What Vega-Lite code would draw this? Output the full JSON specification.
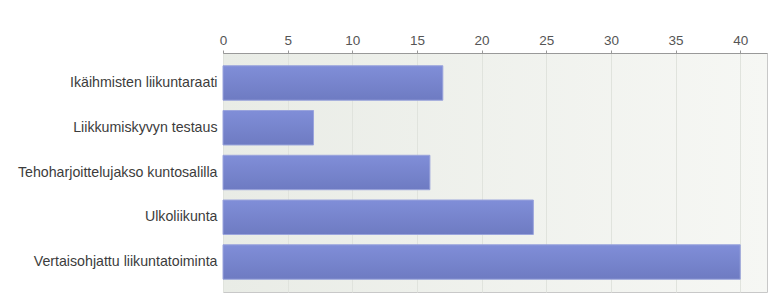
{
  "$schema": "https://vega.github.io/schema/vega-lite/v6.json",
  "width": 544,
  "height": 239,
  "autosize": {"type": "none"},
  "padding": {"left": 223, "top": 53, "right": 14, "bottom": 15},
  "background": "white",
  "data": {"values": [
    {"kategoria": "Ikäihmisten liikuntaraati", "arvo": 17},
    {"kategoria": "Liikkumiskyvyn testaus", "arvo": 7},
    {"kategoria": "Tehoharjoittelujakso kuntosalilla", "arvo": 16},
    {"kategoria": "Ulkoliikunta", "arvo": 24},
    {"kategoria": "Vertaisohjattu liikuntatoiminta", "arvo": 40}
  ]},
  "config": {
    "font": "Liberation Sans",
    "view": {
      "fill": {"gradient": "linear", "x1": 0, "y1": 0, "x2": 1, "y2": 0,
        "stops": [{"offset": 0, "color": "#e9ece6"}, {"offset": 1, "color": "#f6f7f4"}]},
      "stroke": "#c8c8c8"
    }
  },
  "mark": {
    "type": "bar",
    "color": {"gradient": "linear", "x1": 0, "y1": 0, "x2": 0, "y2": 1,
      "stops": [{"offset": 0, "color": "#808ed8"}, {"offset": 1, "color": "#6e7bc2"}]},
    "stroke": "#9aa4dc",
    "strokeWidth": 1
  },
  "encoding": {
    "y": {
      "field": "kategoria", "type": "nominal", "sort": null, "title": null,
      "scale": {"paddingInner": 0.23, "paddingOuter": 0.285},
      "axis": {"ticks": false, "domain": false, "labelFontSize": 14.2, "labelColor": "#3c3c3c", "labelPadding": 6, "labelLimit": 300}
    },
    "x": {
      "field": "arvo", "type": "quantitative", "title": null,
      "scale": {"domain": [0, 42.07], "nice": false},
      "axis": {"orient": "top", "values": [0, 5, 10, 15, 20, 25, 30, 35, 40], "labelFontSize": 13.5, "labelColor": "#555555",
        "domainColor": "#999999", "tickColor": "#999999", "tickSize": 3, "labelPadding": 3,
        "gridColor": "#e0e3dd", "labelFlush": false}
    }
  }
}
